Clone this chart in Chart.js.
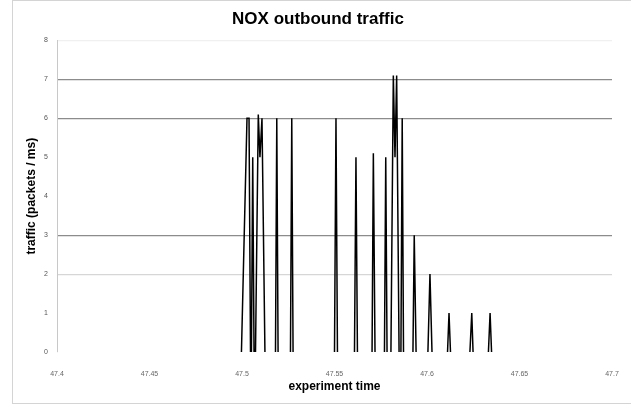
<!DOCTYPE html>
<html>
<head>
<meta charset="utf-8">
<script src="https://cdn.jsdelivr.net/npm/chart.js@4/dist/chart.umd.min.js"></script>
<style>
  html, body { margin: 0; padding: 0; background: #fff; }
  #frame { position: absolute; left: 12px; top: 0; width: 640px; height: 404px;
           border: 1px solid #d4d4d4; box-sizing: border-box; }
  #wrap { position: absolute; left: 0; top: 0; width: 631px; height: 408px; }
</style>
</head>
<body>
<div id="frame"></div>
<div id="wrap"><canvas id="noxChart"></canvas></div>
<script>
// each burst: experiment times and traffic (packets / ms)
const burstTimes = [
  [47.4997, 47.5027, 47.5038, 47.5046],
  [47.5051, 47.5058, 47.5065],
  [47.5073, 47.5088, 47.5097, 47.5108, 47.5124],
  [47.5181, 47.5188, 47.5195],
  [47.5262, 47.5269, 47.5276],
  [47.5500, 47.5508, 47.5516],
  [47.5608, 47.5616, 47.5624],
  [47.5703, 47.5710, 47.5719],
  [47.5770, 47.5777, 47.5784],
  [47.5805, 47.5818, 47.5827, 47.5836, 47.5849],
  [47.5859, 47.5866, 47.5873],
  [47.5924, 47.5931, 47.5941],
  [47.6005, 47.6016, 47.6027],
  [47.6111, 47.6119, 47.6127],
  [47.6232, 47.6242, 47.6249],
  [47.6332, 47.6341, 47.6349]
];
const burstTraffic = [
  [0, 6, 6, 0],
  [0, 5, 0],
  [0, 6.1, 5, 6, 0],
  [0, 6, 0],
  [0, 6, 0],
  [0, 6, 0],
  [0, 5, 0],
  [0, 5.1, 0],
  [0, 5, 0],
  [0, 7.1, 5, 7.1, 0],
  [0, 6, 0],
  [0, 3, 0],
  [0, 2, 0],
  [0, 1, 0],
  [0, 1, 0],
  [0, 1, 0]
];
const xTicks = [47.4, 47.45, 47.5, 47.55, 47.6, 47.65, 47.7];
const yTicks = [0, 1, 2, 3, 4, 5, 6, 7, 8];

const points = [];
burstTimes.forEach((times, i) => {
  times.forEach((t, j) => points.push({ x: t, y: burstTraffic[i][j] }));
  points.push({ x: times[times.length - 1], y: null });
});

function gridColor(ctx) {
  const v = ctx.tick && ctx.tick.value;
  if (v === 7 || v === 6 || v === 3) return "#8c8c8c";
  if (v === 2) return "#d6d6d6";
  if (v === 8) return "#f0f0f0";
  return "rgba(0,0,0,0)";
}

const ctx = document.getElementById("noxChart").getContext("2d");
new Chart(ctx, {
  type: "line",
  data: {
    datasets: [{
      label: "traffic",
      data: points,
      borderColor: "#000",
      borderWidth: 1.5,
      pointRadius: 0,
      tension: 0,
      spanGaps: false,
      fill: false
    }]
  },
  options: {
    responsive: true,
    maintainAspectRatio: false,
    animation: false,
    layout: { padding: { left: 24, right: 19, top: 0, bottom: 14 } },
    plugins: {
      legend: { display: false },
      tooltip: { enabled: false },
      title: {
        display: true,
        text: "NOX outbound traffic",
        color: "#000",
        font: { family: "Liberation Sans", size: 17, weight: "bold" },
        padding: { top: 9, bottom: 11 }
      }
    },
    scales: {
      x: {
        type: "linear",
        min: 47.4,
        max: 47.7,
        afterBuildTicks: s => { s.ticks = xTicks.map(v => ({ value: v })); },
        afterFit: s => { s.height = 42; },
        grid: { display: false },
        border: { display: false },
        ticks: {
          color: "#666",
          font: { family: "Liberation Sans", size: 7 },
          maxRotation: 0,
          padding: 10,
          callback: v => String(Number(v.toFixed(2)))
        },
        title: {
          display: true,
          text: "experiment time",
          color: "#000",
          font: { family: "Liberation Sans", size: 12, weight: "bold" },
          padding: { top: 4, bottom: 0 }
        }
      },
      y: {
        min: 0,
        max: 8,
        afterBuildTicks: s => { s.ticks = yTicks.map(v => ({ value: v })); },
        afterFit: s => { s.width = 33; },
        grid: { color: gridColor, drawTicks: false, lineWidth: 1.2 },
        border: { display: true, color: "#c8c8c8", width: 1 },
        ticks: {
          color: "#555",
          font: { family: "Liberation Sans", size: 7 },
          padding: 9
        },
        title: {
          display: true,
          text: "traffic (packets / ms)",
          color: "#000",
          font: { family: "Liberation Sans", size: 12, weight: "bold" },
          padding: { top: 0, bottom: 0 }
        }
      }
    }
  }
});
</script>
</body>
</html>
